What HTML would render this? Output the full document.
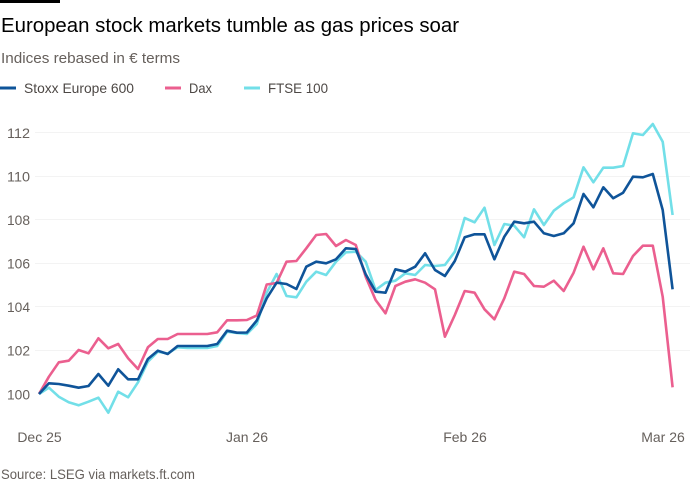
<!DOCTYPE html>
<html>
<head>
<meta charset="utf-8">
<style>
html,body{margin:0;padding:0;background:#fff;}
body{width:700px;height:500px;overflow:hidden;}
svg{display:block;}
text{font-family:"Liberation Sans",sans-serif;}
</style>
</head>
<body>
<svg width="700" height="500" viewBox="0 0 700 500" xmlns="http://www.w3.org/2000/svg">
<rect x="0" y="0" width="700" height="500" fill="#fff"/>
<rect x="0" y="0" width="60" height="3" fill="#000"/>
<text x="1" y="32" font-size="20" fill="#000" textLength="458" lengthAdjust="spacingAndGlyphs">European stock markets tumble as gas prices soar</text>
<text x="1" y="63" font-size="15" fill="#66605c" textLength="179" lengthAdjust="spacingAndGlyphs">Indices rebased in € terms</text>

<!-- legend -->
<line x1="0" y1="88" x2="16" y2="88" stroke="#0f5499" stroke-width="3"/>
<text x="24" y="93" font-size="14" fill="#4d4845" textLength="110" lengthAdjust="spacingAndGlyphs">Stoxx Europe 600</text>
<line x1="165" y1="88" x2="181" y2="88" stroke="#eb5f8f" stroke-width="3"/>
<text x="189" y="93" font-size="14" fill="#4d4845" textLength="23" lengthAdjust="spacingAndGlyphs">Dax</text>
<line x1="244" y1="88" x2="260" y2="88" stroke="#72dfe8" stroke-width="3"/>
<text x="268" y="93" font-size="14" fill="#4d4845" textLength="60" lengthAdjust="spacingAndGlyphs">FTSE 100</text>

<!-- grid -->
<g stroke="#f3f3f3" stroke-width="1">
<line x1="35" y1="132.5" x2="690" y2="132.5"/>
<line x1="35" y1="176.5" x2="690" y2="176.5"/>
<line x1="35" y1="219.5" x2="690" y2="219.5"/>
<line x1="35" y1="263.5" x2="690" y2="263.5"/>
<line x1="35" y1="306.5" x2="690" y2="306.5"/>
<line x1="35" y1="350.5" x2="690" y2="350.5"/>
</g>

<!-- y labels -->
<g font-size="14" fill="#66605c">
<text x="7" y="138" textLength="23" lengthAdjust="spacingAndGlyphs">112</text>
<text x="7" y="181.5" textLength="23" lengthAdjust="spacingAndGlyphs">110</text>
<text x="7" y="225" textLength="23" lengthAdjust="spacingAndGlyphs">108</text>
<text x="7" y="268.5" textLength="23" lengthAdjust="spacingAndGlyphs">106</text>
<text x="7" y="312" textLength="23" lengthAdjust="spacingAndGlyphs">104</text>
<text x="7" y="355.5" textLength="23" lengthAdjust="spacingAndGlyphs">102</text>
<text x="7" y="399.5" textLength="23" lengthAdjust="spacingAndGlyphs">100</text>
</g>

<!-- x labels -->
<g font-size="14" fill="#66605c" text-anchor="middle">
<text x="39.5" y="442">Dec 25</text>
<text x="247" y="442">Jan 26</text>
<text x="465" y="442">Feb 26</text>
<text x="663" y="442">Mar 26</text>
</g>

<text x="1" y="479" font-size="14" fill="#66605c" textLength="194" lengthAdjust="spacingAndGlyphs">Source: LSEG via markets.ft.com</text>

<g fill="none" stroke-width="2.6" stroke-linejoin="round" stroke-linecap="butt">
<!-- FTSE 100 -->
<polyline stroke="#72dfe8" points="39,394 48.9,387.7 58.8,396.7 68.7,402.3 78.6,405.3 88.5,401.7 98.4,397.7 108.3,412.7 118.2,391.7 128.1,397.3 138,382.3 147.9,361.7 157.8,351.7 167.7,353.5 177.6,347.3 187.5,348 197.4,348 207.3,348 217.2,346 227.1,331.7 237,333 246.9,334 256.8,324 266.7,292.7 276.6,274 286.5,296 296.4,297.3 306.3,281.7 316.2,271.7 326.1,275 336,261.7 345.9,252.3 355.8,251.7 365.7,261.7 375.6,290 385.5,282.7 395.4,280.7 405.3,273.3 415.2,275 425.1,265 435,266 444.9,265 454.8,251.7 464.7,218 474.6,222.3 484.5,207.7 494.4,245 504.3,224 514.2,225.7 524.1,237.3 534,209.3 543.9,225 553.8,210.7 563.7,203.3 573.6,197.3 583.5,167.3 593.4,182.3 603.3,167.7 613.2,167.7 623.1,166 633,133.3 642.9,135 652.8,124 662.7,141.7 672.6,215"/>
<!-- Dax -->
<polyline stroke="#eb5f8f" points="39,394 48.9,376.7 58.8,362.3 68.7,360.7 78.6,350 88.5,353.3 98.4,338.3 108.3,348.3 118.2,344 128.1,358.3 138,369 147.9,347.3 157.8,339 167.7,339 177.6,334 187.5,334 197.4,334 207.3,334 217.2,332.3 227.1,320.3 237,320.3 246.9,320 256.8,315.5 266.7,284.5 276.6,283 286.5,261.7 296.4,261 306.3,248.3 316.2,235 326.1,234 336,246 345.9,240 355.8,245 365.7,276.7 375.6,300 385.5,313.3 395.4,286 405.3,281.7 415.2,279.3 425.1,282.7 435,289.3 444.9,336.7 454.8,315 464.7,291 474.6,292.7 484.5,309.3 494.4,319.3 504.3,298.3 514.2,271.7 524.1,274 534,286 543.9,286.7 553.8,280.7 563.7,291 573.6,272.7 583.5,246.7 593.4,269.3 603.3,248.3 613.2,273.3 623.1,274 633,256 642.9,245.7 652.8,245.7 662.7,296.7 672.6,387.3"/>
<!-- Stoxx Europe 600 -->
<polyline stroke="#0f5499" points="39,394 48.9,383.3 58.8,384 68.7,385.7 78.6,387.7 88.5,386 98.4,374 108.3,385.7 118.2,369.3 128.1,379.3 138,379.3 147.9,359 157.8,350.7 167.7,354 177.6,346 187.5,346 197.4,346 207.3,346 217.2,344 227.1,330.7 237,332.7 246.9,332.5 256.8,320.5 266.7,298.3 276.6,282.7 286.5,284 296.4,289 306.3,266.7 316.2,261.7 326.1,263.3 336,259.3 345.9,248.3 355.8,249 365.7,274.3 375.6,291.7 385.5,292.7 395.4,269.3 405.3,271.7 415.2,266.7 425.1,253.3 435,270 444.9,276 454.8,261 464.7,237.3 474.6,234.3 484.5,234.3 494.4,259.3 504.3,236.7 514.2,221.7 524.1,223.3 534,221.7 543.9,233.3 553.8,236 563.7,233.3 573.6,223.3 583.5,194 593.4,207.3 603.3,187.3 613.2,198.3 623.1,192.7 633,176.7 642.9,177.3 652.8,174 662.7,210 672.6,289.3"/>
</g>
</svg>
</body>
</html>
